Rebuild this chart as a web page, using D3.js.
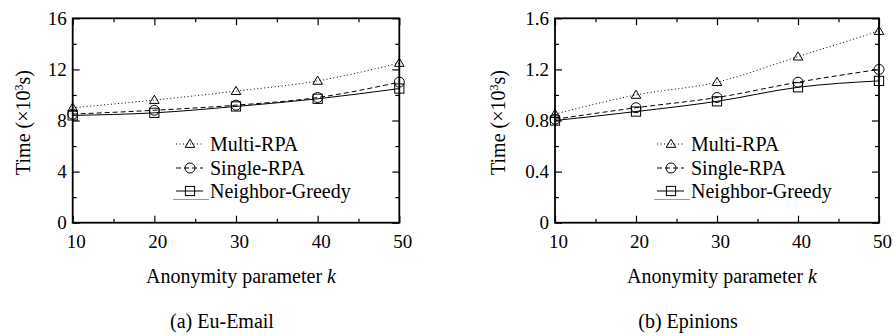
<!DOCTYPE html>
<html>
<head>
<meta charset="utf-8">
<script src="https://cdn.jsdelivr.net/npm/d3@7"></script>
<style>
  body { margin: 0; background: #fff; }
</style>
</head>
<body>
<div id="chart"></div>
<script>
// valores
const kValues = [10, 20, 30, 40, 50];
const seriesNames = ['Multi-RPA', 'Single-RPA', 'Neighbor-Greedy'];

const emailMulti = [9.0, 9.6, 10.3, 11.1, 12.5];
const emailSingle = [8.5, 8.8, 9.2, 9.8, 11.0];
const emailGreedy = [8.4, 8.6, 9.1, 9.7, 10.5];
const emailTicks = [0, 4, 8, 12, 16];

const epinMulti = [0.85, 1.0, 1.1, 1.3, 1.5];
const epinSingle = [0.81, 0.9, 0.98, 1.1, 1.2];
const epinGreedy = [0.8, 0.87, 0.95, 1.06, 1.11];
const epinTicks = [0, 0.4, 0.8, 1.2, 1.6];

const panels = [
  { left: 72.7, right: 399.3, yMax: 16, ticks: emailTicks, fmt: d => d,
    series: [emailMulti, emailSingle, emailGreedy], caption: '(a) Eu-Email',
    captionX: 222, titleX: 241, yTitleX: 24, legendX: 176 },
  { left: 555, right: 879, yMax: 1.6, ticks: epinTicks, fmt: d => d === 0 ? '0' : d3.format('.1f')(d),
    series: [epinMulti, epinSingle, epinGreedy], caption: '(b) Epinions',
    captionX: 688, titleX: 722, yTitleX: 499, legendX: 657 }
];

const plotTop = 18.3, plotBottom = 222.7;
const dashes = ['1,2.5', '5,3', null];
const serif = 'Liberation Serif';

const svg = d3.select('#chart').append('svg')
  .attr('width', 895)
  .attr('height', 336)
  .attr('font-family', serif);

function marker(g, type, x, y) {
  if (type === 0) {
    const s = 4.8;
    g.append('path')
      .attr('d', `M${x},${y - s}L${x + s},${y + s * 0.7}L${x - s},${y + s * 0.7}Z`)
      .attr('fill', 'none').attr('stroke', '#000').attr('stroke-width', 1);
  } else if (type === 1) {
    g.append('circle').attr('cx', x).attr('cy', y).attr('r', 5)
      .attr('fill', 'none').attr('stroke', '#000').attr('stroke-width', 1);
  } else {
    g.append('rect').attr('x', x - 4.6).attr('y', y - 4.6).attr('width', 9.2).attr('height', 9.2)
      .attr('fill', 'none').attr('stroke', '#000').attr('stroke-width', 1);
  }
}

function addText(g, size) {
  return g.append('text')
    .attr('font-family', serif)
    .attr('font-size', size)
    .attr('fill', '#000');
}

panels.forEach(p => {
  const x = d3.scaleLinear().domain([10, 50]).range([p.left, p.right]);
  const y = d3.scaleLinear().domain([0, p.yMax]).range([plotBottom, plotTop]);
  const g = svg.append('g');

  const minorX = [15, 25, 35, 45];
  const minorY = p.ticks.slice(1).map(t => t - p.yMax / 8);

  // eixos com marcas para dentro
  const axB = g.append('g').attr('transform', `translate(0,${plotBottom})`)
    .call(d3.axisBottom(x).tickValues(kValues).tickSize(-7).tickSizeOuter(0).tickPadding(12));
  axB.selectAll('text').attr('dx', 3);
  g.append('g').attr('transform', `translate(0,${plotBottom})`)
    .call(d3.axisBottom(x).tickValues(minorX).tickSize(-4).tickSizeOuter(0).tickFormat(''));
  g.append('g').attr('transform', `translate(0,${plotTop})`)
    .call(d3.axisTop(x).tickValues(kValues).tickSize(-7).tickSizeOuter(0).tickFormat(''));
  g.append('g').attr('transform', `translate(0,${plotTop})`)
    .call(d3.axisTop(x).tickValues(minorX).tickSize(-4).tickSizeOuter(0).tickFormat(''));

  g.append('g').attr('transform', `translate(${p.left},0)`)
    .call(d3.axisLeft(y).tickValues(p.ticks).tickSize(-7).tickSizeOuter(0).tickPadding(6).tickFormat(p.fmt));
  g.append('g').attr('transform', `translate(${p.left},0)`)
    .call(d3.axisLeft(y).tickValues(minorY).tickSize(-4).tickSizeOuter(0).tickFormat(''));
  g.append('g').attr('transform', `translate(${p.right},0)`)
    .call(d3.axisRight(y).tickValues(p.ticks).tickSize(-7).tickSizeOuter(0).tickFormat(''));
  g.append('g').attr('transform', `translate(${p.right},0)`)
    .call(d3.axisRight(y).tickValues(minorY).tickSize(-4).tickSizeOuter(0).tickFormat(''));

  g.selectAll('.domain').remove();
  g.selectAll('g').attr('font-family', serif).attr('font-size', 19);
  g.selectAll('.tick line').attr('stroke', '#000').attr('stroke-width', 1.2);
  g.selectAll('.tick text').attr('font-family', serif).attr('font-size', 19);

  g.append('rect')
    .attr('x', p.left).attr('y', plotTop)
    .attr('width', p.right - p.left).attr('height', plotBottom - plotTop)
    .attr('fill', 'none').attr('stroke', '#000').attr('stroke-width', 1.8);

  // séries
  const line = d3.line().x((d, i) => x(kValues[i])).y(d => y(d)).curve(d3.curveMonotoneX);
  p.series.forEach((vals, si) => {
    g.append('path')
      .datum(vals)
      .attr('d', line)
      .attr('fill', 'none')
      .attr('stroke', '#000')
      .attr('stroke-width', 1)
      .attr('stroke-dasharray', dashes[si]);
    vals.forEach((v, i) => marker(g, si, x(kValues[i]), y(v)));
  });

  // legenda
  const rowY = [144, 168, 191];
  seriesNames.forEach((name, si) => {
    g.append('line')
      .attr('x1', p.legendX).attr('x2', p.legendX + 27)
      .attr('y1', rowY[si]).attr('y2', rowY[si])
      .attr('stroke', '#000').attr('stroke-width', 1)
      .attr('stroke-dasharray', dashes[si]);
    marker(g, si, p.legendX + 14, rowY[si]);
    addText(g, 20)
      .attr('x', p.legendX + 34).attr('y', rowY[si] + 7)
      .text(name);
  });
  g.append('line')
    .attr('x1', p.legendX - 3).attr('x2', p.legendX + 33)
    .attr('y1', 199.5).attr('y2', 199.5)
    .attr('stroke', '#999').attr('stroke-width', 1);

  // títulos
  const xt = addText(g, 20)
    .attr('x', p.titleX).attr('y', 283)
    .attr('text-anchor', 'middle');
  xt.append('tspan').text('Anonymity parameter ');
  xt.append('tspan').attr('font-style', 'italic').text('k');

  const yt = addText(g, 20)
    .attr('transform', `translate(${p.yTitleX + 6},${(plotTop + plotBottom) / 2 + 2}) rotate(-90)`)
    .attr('text-anchor', 'middle');
  yt.append('tspan').text('Time (×10');
  yt.append('tspan').attr('dy', -7).attr('font-size', 12).text('3');
  yt.append('tspan').attr('dy', 7).text('s)');

  addText(g, 20)
    .attr('x', p.captionX).attr('y', 328)
    .attr('text-anchor', 'middle')
    .text(p.caption);
});
</script>
</body>
</html>
